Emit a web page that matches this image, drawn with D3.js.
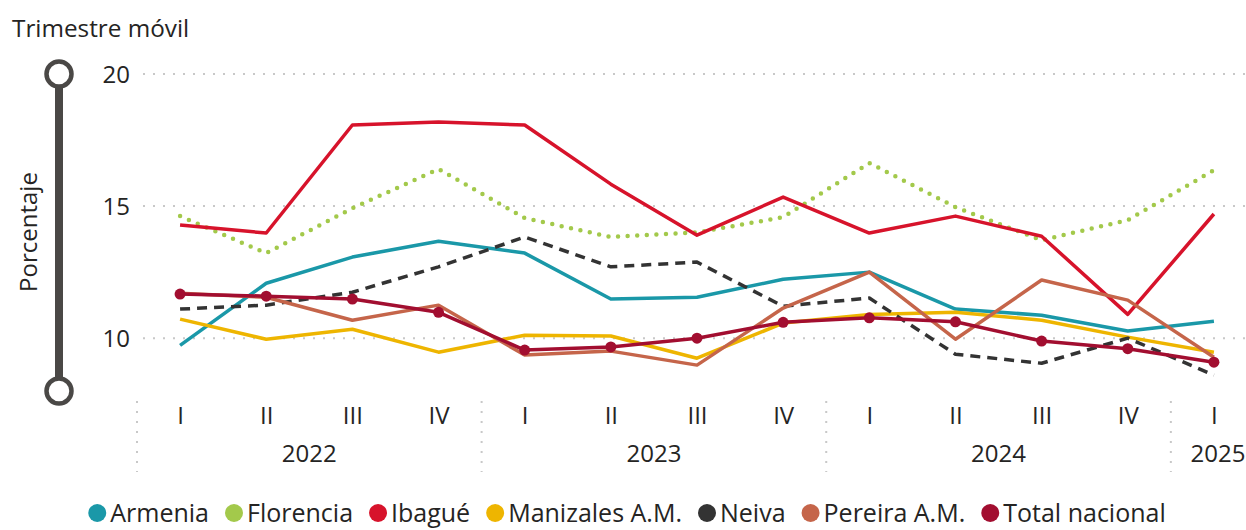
<!DOCTYPE html>
<html>
<head>
<meta charset="utf-8">
<script src="https://cdn.jsdelivr.net/npm/d3@7"></script>
<style>
  html, body { margin: 0; padding: 0; background: #fff; }
  svg { display: block; font-family: "Open Sans", "Noto Sans", sans-serif; }
</style>
</head>
<body>
<svg id="chart" width="1246" height="530"></svg>
<script>
// ---- DATA ----
const quarters = ["I","II","III","IV","I","II","III","IV","I","II","III","IV","I"];
const years = ["2022","2022","2022","2022","2023","2023","2023","2023","2024","2024","2024","2024","2025"];
const yearLabels = ["2022","2023","2024","2025"];
const yTicks = [10, 15, 20];
const seriesNames = ["Armenia","Florencia","Ibagué","Manizales A.M.","Neiva","Pereira A.M.","Total nacional"];

const armenia   = [9.73, 12.08, 13.07, 13.67, 13.22, 11.48, 11.55, 12.23, 12.50, 11.10, 10.87, 10.27, 10.64];
const florencia = [14.62, 13.22, 14.92, 16.40, 14.55, 13.83, 14.00, 14.58, 16.63, 14.96, 13.71, 14.47, 16.36];
const ibague    = [14.28, 13.98, 18.07, 18.18, 18.07, 15.83, 13.90, 15.34, 13.98, 14.62, 13.86, 10.90, 14.70];
const manizales = [10.72, 9.96, 10.34, 9.47, 10.11, 10.08, 9.24, 10.57, 10.90, 10.98, 10.68, 10.04, 9.47];
const neiva     = [11.10, 11.25, 11.74, 12.70, 13.83, 12.70, 12.88, 11.21, 11.52, 9.39, 9.05, 10.00, 8.60];
const pereira   = [11.70, 11.55, 10.68, 11.25, 9.36, 9.51, 8.98, 11.14, 12.50, 9.96, 12.20, 11.44, 9.28];
const total     = [11.67, 11.59, 11.48, 10.98, 9.55, 9.67, 10.00, 10.60, 10.77, 10.62, 9.89, 9.60, 9.09];

const seriesValues = [armenia, florencia, ibague, manizales, neiva, pereira, total];
const colors = ["#1a98a8", "#a3c94b", "#d7132b", "#eeb500", "#333333", "#c5654a", "#a20e30"];
const dashes = [null, "0,9.6", null, null, "10,7", null, null];

// ---- LAYOUT ----
const svg = d3.select("#chart");
const textColor = "#252423";
const idx = d3.range(quarters.length);

const x = d3.scalePoint().domain(idx).range([137, 1257]).padding(0.5);
const y = d3.scaleLinear().domain([8, 20]).range([391, 74]);

// gridlines
svg.append("g").selectAll("line").data(yTicks).join("line")
  .attr("x1", 143).attr("x2", 1246)
  .attr("y1", d => y(d)).attr("y2", d => y(d))
  .attr("stroke", "#c8c8c8").attr("stroke-width", 2)
  .attr("stroke-dasharray", "2,8");

// y tick labels via axis
const yAxis = svg.append("g").attr("transform", "translate(130,0)")
  .call(d3.axisLeft(y).tickValues(yTicks).tickSize(0).tickPadding(0).tickFormat(d3.format("d")));
yAxis.select(".domain").remove();
yAxis.selectAll("text").attr("font-size", 24).attr("fill", textColor)
  .attr("font-family", "'Open Sans', sans-serif").attr("dy", "0.35em");

// slider-like y axis decoration
const axisCol = "#4a4846";
svg.append("line").attr("x1", 59).attr("x2", 59).attr("y1", y(20)).attr("y2", y(8))
  .attr("stroke", axisCol).attr("stroke-width", 8);
svg.append("g").selectAll("circle").data([20, 8]).join("circle")
  .attr("cx", 59).attr("cy", d => y(d)).attr("r", 12.5)
  .attr("fill", "#fff").attr("stroke", axisCol).attr("stroke-width", 4.5);

// axis titles
svg.append("text").attr("x", 12).attr("y", 37).attr("font-size", 24.3).attr("fill", textColor)
  .text("Trimestre móvil");
svg.append("text").attr("transform", "translate(37,232) rotate(-90)").attr("text-anchor", "middle")
  .attr("font-size", 24).attr("fill", textColor).text("Porcentaje");

// x-axis quarter labels
const xAxis = svg.append("g").attr("transform", "translate(0,424)")
  .call(d3.axisBottom(x).tickSize(0).tickPadding(0).tickFormat(i => quarters[i]));
xAxis.select(".domain").remove();
xAxis.selectAll("text").attr("font-size", 24).attr("fill", textColor)
  .attr("font-family", "'Open Sans', sans-serif").attr("dy", 0);

// year groups
const groups = yearLabels.map(yr => {
  const ids = idx.filter(i => years[i] === yr);
  return { yr, first: ids[0], last: ids[ids.length - 1] };
});
const step = x.step();
// separators
svg.append("g").selectAll("line").data(groups).join("line")
  .attr("x1", g => x(g.first) - step / 2).attr("x2", g => x(g.first) - step / 2)
  .attr("y1", 401).attr("y2", 472)
  .attr("stroke", "#c8c8c8").attr("stroke-width", 2).attr("stroke-dasharray", "2,8");
// year labels
svg.append("g").selectAll("text").data(groups).join("text")
  .attr("x", g => {
    const cx = (x(g.first) + x(g.last)) / 2;
    return g.first === g.last ? Math.min(cx + 4, 1218) : cx;
  })
  .attr("y", 462).attr("text-anchor", "middle").attr("font-size", 24).attr("fill", textColor)
  .text(g => g.yr);

// lines
const line = d3.line().x((d, i) => x(i)).y(d => y(d));
const plot = svg.append("g");
seriesValues.forEach((vals, s) => {
  const p = plot.append("path").datum(vals)
    .attr("d", line)
    .attr("fill", "none")
    .attr("stroke", colors[s])
    .attr("stroke-width", s === 1 ? 4.5 : 3.5)
    .attr("stroke-linejoin", "round");
  if (dashes[s]) p.attr("stroke-dasharray", dashes[s]);
  if (s === 1) p.attr("stroke-linecap", "round");
});
// markers on Total nacional
plot.append("g").selectAll("circle").data(total).join("circle")
  .attr("cx", (d, i) => x(i)).attr("cy", d => y(d)).attr("r", 5.5)
  .attr("fill", colors[6]);

// legend
const legend = svg.append("g");
let cursor = 0;
seriesNames.forEach((name, s) => {
  const g = legend.append("g");
  g.append("circle").attr("cx", 0).attr("cy", 0).attr("r", 9).attr("fill", colors[s]);
  const t = g.append("text").attr("x", 13).attr("y", 0).attr("dy", "0.35em")
    .attr("font-size", 25).attr("fill", textColor).text(name);
  const w = 13 + t.node().getComputedTextLength();
  g.attr("transform", `translate(${cursor},0)`);
  cursor += w + 25;
});
const legendWidth = cursor - 25 + 9;
legend.attr("transform", `translate(${627 - legendWidth / 2 + 9},513)`);
</script>
</body>
</html>
